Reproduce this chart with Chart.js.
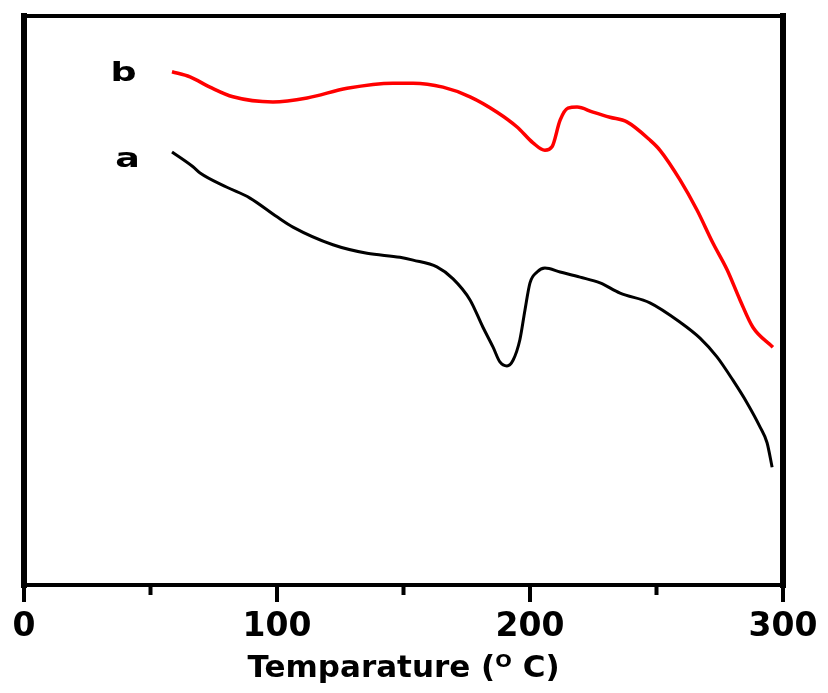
<!DOCTYPE html>
<html>
<head>
<meta charset="utf-8">
<script src="https://cdn.jsdelivr.net/npm/chart.js@4"></script>
<style>
  html, body { margin: 0; padding: 0; background: #fff; }
  #wrap { width: 828px; height: 693px; }
</style>
</head>
<body>
<div id="wrap"><canvas id="dsc"></canvas></div>
<script>
// temperature (deg C) and heat flow (arbitrary units)
const tempA = [58.5, 66.8, 69.6, 80.2, 89.3, 100.0, 106.3, 122.1, 135.6, 148.6, 153.8, 163.2, 169.6, 176.3, 181.4, 185.4, 188.1, 190.9, 193.3, 196.0, 198.0, 200.0, 202.8, 205.9, 211.9, 219.8, 227.7, 235.6, 247.4, 259.3, 267.2, 273.9, 280.2, 285.8, 290.9, 293.7, 295.7];
const flowA = [76.1, 73.5, 72.4, 69.9, 68.0, 64.7, 62.9, 59.8, 58.3, 57.6, 57.1, 55.9, 53.8, 50.1, 45.3, 41.8, 39.2, 38.5, 39.5, 43.1, 48.3, 53.1, 55.0, 55.7, 55.0, 54.1, 53.1, 51.3, 49.6, 46.2, 43.4, 40.1, 36.0, 32.0, 27.8, 25.0, 20.7];

const tempB = [58.5, 65.6, 73.5, 82.6, 98.4, 111.9, 127.7, 145.8, 153.8, 165.6, 176.3, 187.0, 194.9, 201.2, 205.9, 208.7, 211.9, 215.0, 218.6, 224.9, 231.6, 238.3, 247.4, 251.4, 259.3, 266.0, 272.3, 277.9, 283.0, 288.1, 296.0];
const flowB = [90.2, 89.3, 87.5, 85.8, 84.9, 85.6, 87.3, 88.2, 88.2, 87.5, 85.8, 83.1, 80.5, 77.7, 76.4, 77.0, 81.7, 83.8, 84.0, 83.1, 82.2, 81.4, 78.2, 76.4, 71.2, 65.9, 60.1, 55.4, 50.1, 45.3, 41.8];

const xTicks = [0, 50, 100, 150, 200, 250, 300];
const curveLabels = [
  { text: "b", x: 39.3, y: 88.6 },
  { text: "a", x: 40.9, y: 73.5 }
];

const toPoints = (xs, ys) => xs.map((x, i) => ({ x: x, y: ys[i] }));

// box round the plot, ticks under the x axis, and the a / b labels
const framePlugin = {
  id: "frame",
  afterDraw(chart) {
    const { ctx, chartArea: a, scales } = chart;
    ctx.save();
    ctx.strokeStyle = "#000";
    ctx.lineCap = "square";
    ctx.lineWidth = 4;
    ctx.beginPath();
    ctx.moveTo(a.left, a.top); ctx.lineTo(a.right, a.top);
    ctx.moveTo(a.left, a.bottom); ctx.lineTo(a.right, a.bottom);
    ctx.stroke();
    ctx.lineWidth = 6;
    ctx.beginPath();
    ctx.moveTo(a.left, a.top); ctx.lineTo(a.left, a.bottom);
    ctx.moveTo(a.right, a.top); ctx.lineTo(a.right, a.bottom);
    ctx.stroke();

    ctx.lineWidth = 4;
    ctx.lineCap = "butt";
    xTicks.forEach((t) => {
      const px = scales.x.getPixelForValue(t);
      const len = t % 100 === 0 ? 17 : 10;
      ctx.beginPath();
      ctx.moveTo(px, a.bottom);
      ctx.lineTo(px, a.bottom + len);
      ctx.stroke();
    });

    ctx.fillStyle = "#000";
    ctx.font = "bold 27px 'DejaVu Sans'";
    ctx.textAlign = "center";
    ctx.textBaseline = "alphabetic";
    curveLabels.forEach((l) => {
      const px = scales.x.getPixelForValue(l.x);
      const py = scales.y.getPixelForValue(l.y);
      ctx.save();
      ctx.translate(px, py);
      ctx.scale(1.35, 1); // the source lettering is wide
      ctx.fillText(l.text, 0, 0);
      ctx.restore();
    });
    ctx.restore();
  }
};

new Chart(document.getElementById("dsc"), {
  type: "line",
  data: {
    datasets: [
      {
        label: "a",
        data: toPoints(tempA, flowA),
        borderColor: "#000000",
        borderWidth: 3,
        pointRadius: 0,
        cubicInterpolationMode: "monotone",
        fill: false
      },
      {
        label: "b",
        data: toPoints(tempB, flowB),
        borderColor: "#ff0000",
        borderWidth: 3.5,
        pointRadius: 0,
        cubicInterpolationMode: "monotone",
        fill: false
      }
    ]
  },
  options: {
    responsive: true,
    maintainAspectRatio: false,
    animation: false,
    layout: { padding: { left: 24, right: 45, top: 16, bottom: 9 } },
    plugins: {
      legend: { display: false },
      tooltip: { enabled: false }
    },
    scales: {
      x: {
        type: "linear",
        min: 0,
        max: 300,
        // tick marks are drawn by the plugin, the tick length only spaces the labels
        grid: { display: false, drawTicks: true, tickLength: 26 },
        border: { display: false },
        ticks: {
          stepSize: 50,
          padding: 0,
          color: "#000",
          font: { family: "'DejaVu Sans'", size: 33, weight: "bold", lineHeight: 1 },
          maxRotation: 0,
          autoSkip: false,
          callback: (v) => (v % 100 === 0 ? v : "")
        },
        title: {
          display: true,
          text: "Temparature (ᴼ C)",
          color: "#000",
          padding: { top: 9, bottom: 0 },
          font: { family: "'DejaVu Sans'", size: 31, weight: "bold", lineHeight: 1 }
        }
      },
      y: {
        display: false,
        min: 0,
        max: 100
      }
    }
  },
  plugins: [framePlugin]
});
</script>
</body>
</html>
